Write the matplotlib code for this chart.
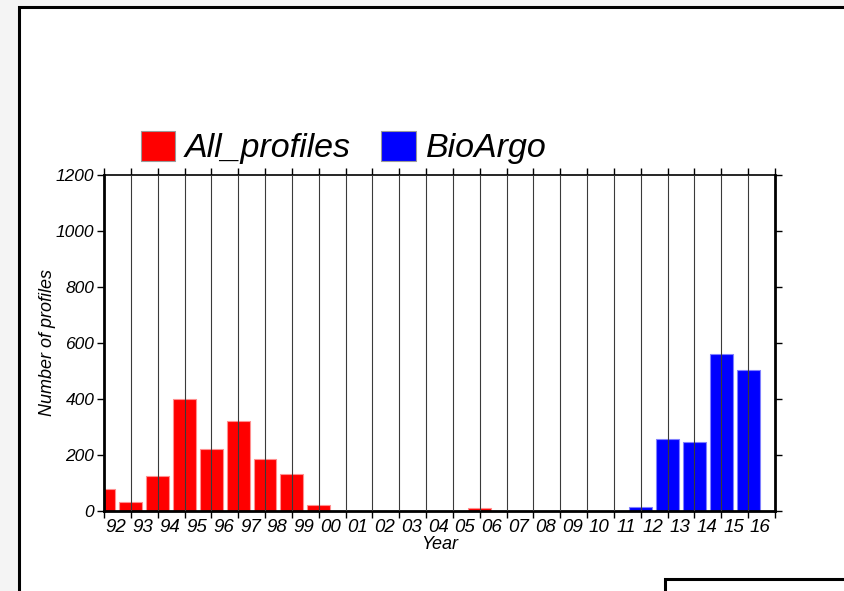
import matplotlib
matplotlib.use('Agg')
from matplotlib import pyplot as plt
from matplotlib.patches import Rectangle, Patch

plt.rcParams['font.family'] = ['Liberation Sans', 'DejaVu Sans']
plt.rcParams['font.style'] = 'italic'

# profiles per year (bars sit on the year boundary)
all_years = [1992, 1993, 1994, 1995, 1996, 1997, 1998, 1999, 2000, 2006]
all_counts = [80, 32, 124, 401, 223, 321, 184, 131, 20, 11]
bio_years = [2012, 2013, 2014, 2015, 2016]
bio_counts = [13, 258, 248, 559, 505]
year_labels = ['92', '93', '94', '95', '96', '97', '98', '99', '00', '01', '02', '03',
               '04', '05', '06', '07', '08', '09', '10', '11', '12', '13', '14', '15', '16']
first_year = 1992

W, H = 845, 591
fig = plt.figure(figsize=(W / 100, H / 100), dpi=100)
fig.patch.set_facecolor('#f4f4f4')

# page frame and the corner box
fig.patches.append(Rectangle((19 / W, -0.1), 1.0, 1 - 7 / H + 0.1, transform=fig.transFigure,
                             facecolor='white', edgecolor='black', linewidth=2.2, zorder=-2))
fig.patches.append(Rectangle((665 / W, -0.1), 1.0, (591 - 579) / H + 0.1, transform=fig.transFigure,
                             facecolor='white', edgecolor='black', linewidth=2.2, zorder=-1))

ax = fig.add_axes([104 / W, 80 / H, 671 / W, 336 / H])
ax.set_zorder(5)
ax.set_facecolor('white')

ax.bar(all_years, all_counts, width=0.85, color='#ff0000', edgecolor='#ff9090', linewidth=0.8, zorder=2)
ax.bar(bio_years, bio_counts, width=0.85, color='#0000ff', edgecolor='#8080ff', linewidth=0.8, zorder=2)

n = len(year_labels)
ax.set_xlim(first_year, first_year + n)
ax.set_ylim(0, 1200)

majors = [first_year + i for i in range(n + 1)]
for x in majors[1:-1]:
    ax.axvline(x, color='#3a3a3a', linewidth=0.8, zorder=3)

ax.set_xticks(majors)
ax.set_xticklabels([])
ax.set_xticks([first_year + i + 0.45 for i in range(n)], minor=True)
ax.set_xticklabels(year_labels, minor=True, fontsize=13.5)
ax.tick_params(axis='x', which='major', direction='out', length=5, width=1, top=True)
ax.tick_params(axis='x', which='minor', length=0, pad=6)
ax.set_yticks([0, 200, 400, 600, 800, 1000, 1200])
ax.tick_params(axis='y', direction='out', length=5, width=1, right=True, labelsize=12.5, pad=2)

for side in ['left', 'bottom', 'right']:
    ax.spines[side].set_linewidth(2)
ax.spines['top'].set_linewidth(1.2)

ax.set_xlabel('Year', fontsize=13, labelpad=0)
ax.set_ylabel('Number of profiles', fontsize=13, labelpad=0)

handles = [Patch(facecolor='#ff0000', edgecolor='#999999', linewidth=0.8, label='All_profiles'),
           Patch(facecolor='#0000ff', edgecolor='#999999', linewidth=0.8, label='BioArgo')]
fig.legend(handles=handles, loc='lower left', bbox_to_anchor=(127 / W, 1 - 178 / H), ncol=2,
           frameon=False, fontsize=24.5, handlelength=1.0, handleheight=1.0,
           handletextpad=0.3, columnspacing=0.9, borderaxespad=0)

fig.savefig('out.png', dpi=100, facecolor=fig.get_facecolor())
